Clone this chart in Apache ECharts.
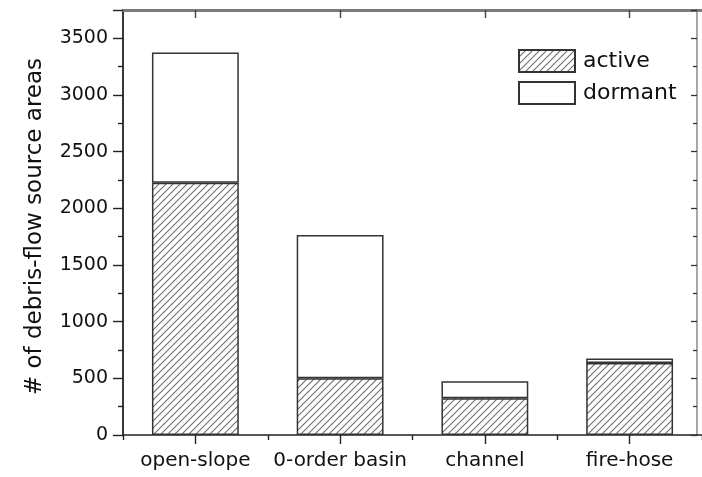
<!DOCTYPE html>
<html>
<head>
<meta charset="utf-8">
<script src="https://cdn.jsdelivr.net/npm/echarts@6/dist/echarts.min.js"></script>
<style>
  html, body { margin: 0; padding: 0; background: #fff; }
  #chart { width: 702px; height: 477px; }
</style>
</head>
<body>
<div id="chart"></div>
<script>
// Debris-flow source areas by type, split into active and dormant counts
const categories = ['open-slope', '0-order basin', 'channel', 'fire-hose'];
const activeCounts = [2225, 500, 325, 635];
const dormantCounts = [1150, 1265, 150, 40];
const seriesNames = ['active', 'dormant'];
const yMax = 3750;
const yStep = 500;

const FONT = 'DejaVu Sans';

// Diagonal hatch tile used for the "active" bars
function makeHatch() {
  const s = 7;
  const c = document.createElement('canvas');
  c.width = s; c.height = s;
  const g = c.getContext('2d');
  g.fillStyle = '#ffffff';
  g.fillRect(0, 0, s, s);
  g.strokeStyle = '#6e6e6e';
  g.lineWidth = 1.1;
  g.beginPath();
  g.moveTo(-1, s + 1); g.lineTo(s + 1, -1);
  g.moveTo(-1, 1); g.lineTo(1, -1);
  g.moveTo(s - 1, s + 1); g.lineTo(s + 1, s - 1);
  g.stroke();
  return c;
}
const hatch = makeHatch();

const chart = echarts.init(document.getElementById('chart'), null, { renderer: 'canvas' });

const option = {
  backgroundColor: '#ffffff',
  animation: false,
  grid: { left: 123, top: 10, width: 580, height: 425, containLabel: false },
  legend: {
    orient: 'vertical',
    left: 513,
    top: 44,
    itemWidth: 56,
    itemHeight: 22,
    itemGap: 8,
    icon: 'rect',
    data: seriesNames,
    textStyle: { fontFamily: FONT, fontSize: 22, color: '#111', padding: [0, 0, 0, 3] }
  },
  xAxis: [
    {
      // main bottom axis: boundary ticks
      type: 'category',
      position: 'bottom',
      data: categories,
      boundaryGap: true,
      axisLine: { lineStyle: { color: '#222', width: 1.6 } },
      axisTick: { show: true, length: 5, lineStyle: { color: '#222', width: 1.4 } },
      axisLabel: { show: false },
      splitLine: { show: false }
    },
    {
      // category labels with centred ticks
      type: 'category',
      position: 'bottom',
      data: categories,
      boundaryGap: true,
      axisLine: { show: false },
      axisTick: { show: true, alignWithLabel: true, length: 9, lineStyle: { color: '#222', width: 1.4 } },
      axisLabel: { interval: 0, margin: 16, fontFamily: FONT, fontSize: 20, color: '#111' },
      splitLine: { show: false }
    },
    {
      // top frame
      type: 'category',
      position: 'top',
      data: categories,
      boundaryGap: true,
      axisLine: { lineStyle: { color: '#7a7a7a', width: 3 } },
      axisTick: { show: true, inside: true, alignWithLabel: true, length: 8, lineStyle: { color: '#444', width: 1.4 } },
      axisLabel: { show: false },
      splitLine: { show: false }
    }
  ],
  yAxis: [
    {
      type: 'value',
      position: 'left',
      min: 0,
      max: yMax,
      interval: yStep,
      name: '# of debris-flow source areas',
      nameLocation: 'middle',
      nameGap: 76,
      nameTextStyle: { fontFamily: FONT, fontSize: 23, color: '#111', padding: [0, 8, 0, 0] },
      axisLine: { show: true, lineStyle: { color: '#222', width: 1.8 } },
      axisTick: { show: true, length: 10, lineStyle: { color: '#222', width: 1.4 } },
      minorTick: { show: true, splitNumber: 2, length: 5, lineStyle: { color: '#222', width: 1.4 } },
      axisLabel: { margin: 15, fontFamily: FONT, fontSize: 19, color: '#111',
        showMaxLabel: false, formatter: v => String(v) },
      splitLine: { show: false },
      minorSplitLine: { show: false }
    },
    {
      // right frame
      type: 'value',
      position: 'right',
      offset: -5,
      min: 0,
      max: yMax,
      interval: yStep,
      axisLine: { show: true, lineStyle: { color: '#8a8a8a', width: 1.5 } },
      axisTick: { show: true, inside: true, length: 6, lineStyle: { color: '#333', width: 1.3 } },
      minorTick: { show: true, splitNumber: 2, length: 4, lineStyle: { color: '#333', width: 1.3 } },
      axisLabel: { show: false },
      splitLine: { show: false }
    }
  ],
  series: [
    {
      name: seriesNames[0],
      type: 'bar',
      stack: 'total',
      xAxisIndex: 0,
      yAxisIndex: 0,
      barWidth: '60%',
      data: activeCounts,
      itemStyle: {
        color: { image: hatch, repeat: 'repeat' },
        borderColor: '#333',
        borderWidth: 1.5
      }
    },
    {
      name: seriesNames[1],
      type: 'bar',
      stack: 'total',
      xAxisIndex: 0,
      yAxisIndex: 0,
      barWidth: '60%',
      data: dormantCounts,
      itemStyle: {
        color: '#ffffff',
        borderColor: '#333',
        borderWidth: 1.5
      }
    }
  ]
};

chart.setOption(option);
</script>
</body>
</html>
